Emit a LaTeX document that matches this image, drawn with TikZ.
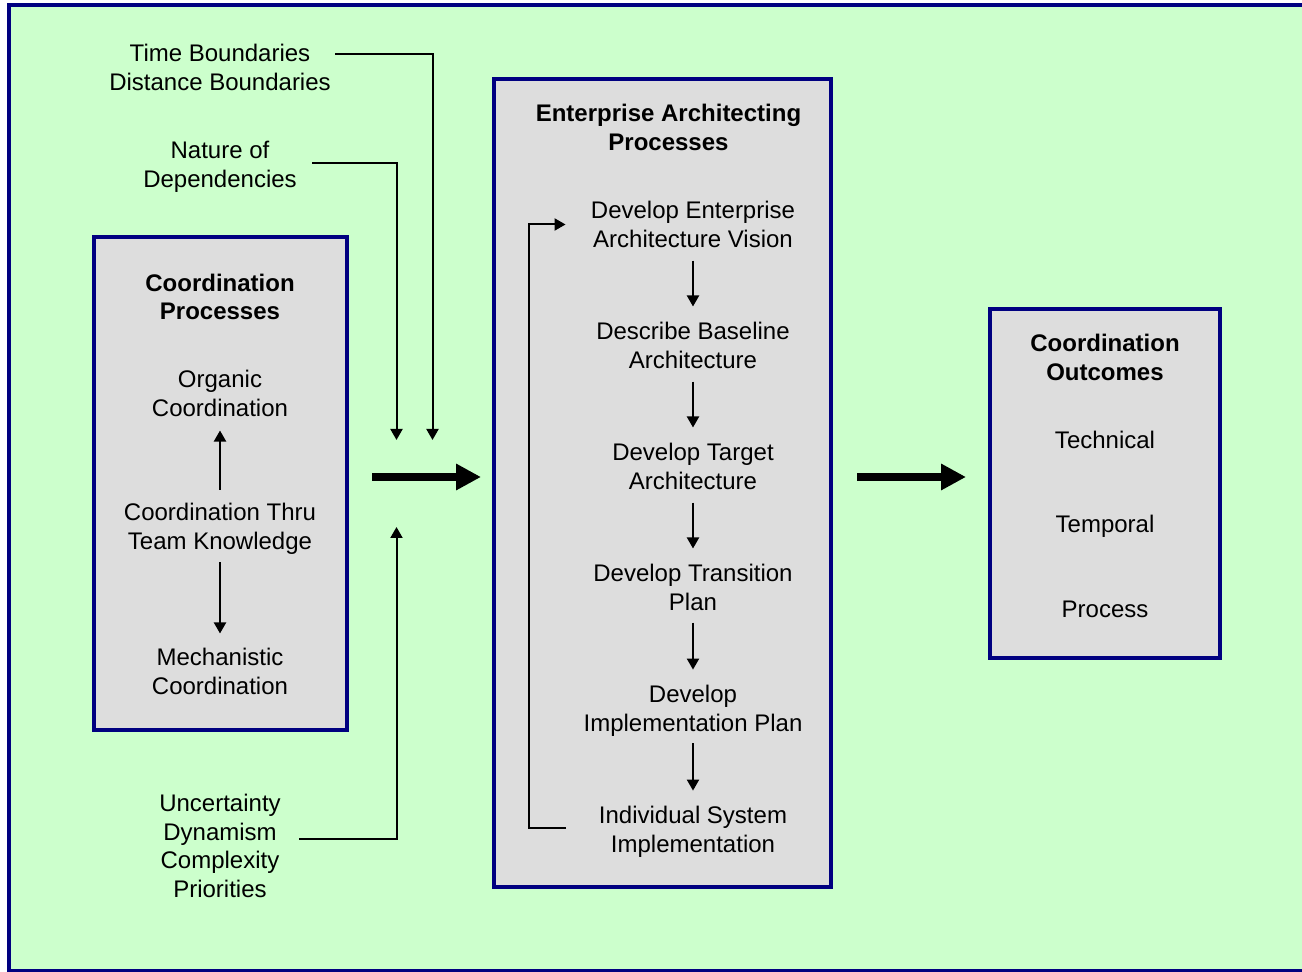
\documentclass[tikz,border=0pt]{standalone}
\usepackage{fontspec}
\setmainfont{Liberation Sans}
\usetikzlibrary{arrows.meta}
\definecolor{bggreen}{HTML}{CCFFCC}
\definecolor{boxgray}{HTML}{DDDDDD}
\definecolor{boxblue}{HTML}{000080}

\begin{document}
\begin{tikzpicture}[x=0.5pt,y=-0.5pt,
 every node/.style={font=\fontsize{12pt}{14.4pt}\selectfont,align=center,inner sep=0pt},
 title/.style={font=\fontsize{12pt}{14.4pt}\selectfont\bfseries},
 procbox/.style={draw=boxblue,line width=2pt,fill=boxgray},
 link/.style={-{Triangle[length=5.5pt,width=6pt]},line width=1pt},
 stepline/.style={link,shorten <=6.2pt,shorten >=7.7pt},
 flow/.style={-{Triangle[length=12.5pt,width=12.5pt]},line width=4pt}]
 \clip (0,0) rectangle (1302,972);
 \fill[white] (0,0) rectangle (1302,972);
 \draw[draw=boxblue,line width=2pt,fill=bggreen] (9,5) rectangle (1330,971);
 % the three boxes
 \node (cp box) at (220.5,483.5) [procbox,minimum width=126.5pt,minimum height=246.5pt] {};
 \node (ea box) at (662.5,483) [procbox,minimum width=168.5pt,minimum height=404pt] {};
 \node (co box) at (1105,484) [procbox,minimum width=115pt,minimum height=174.5pt] {};
 % coordination processes
 \node (cp title) at (220,297) [title] {Coordination\\Processes};
 \node (org) at (220,393.5) {Organic\\Coordination};
 \node (ctk) at (220,529) {Coordination Thru\\Team Knowledge};
 \node (mech) at (220,671.5) {Mechanistic\\Coordination};
 \draw[link,shorten <=6.7pt,shorten >=6.7pt] (ctk) -- (org);
 \draw[link,shorten <=3.7pt,shorten >=7.2pt] (ctk) -- (mech);
 % enterprise architecting processes
 \node (ea title) at (668.5,127.5) [title] {Enterprise Architecting\\Processes};
 \node (edv) at (693,224.5) {Develop Enterprise\\Architecture Vision};
 \node (dba) at (693,345.5) {Describe Baseline\\Architecture};
 \node (dta) at (693,466.5) {Develop Target\\Architecture};
 \node (dtp) at (693,587.5) {Develop Transition\\Plan};
 \node (dip) at (693,711) {Develop\\Implementation Plan};
 \node (isi) at (693,832) {Individual System\\Implementation};
 \draw[stepline] (edv) -- (dba);
 \draw[stepline] (dba) -- (dta);
 \draw[stepline] (dta) -- (dtp);
 \draw[stepline,shorten <=5.7pt] (dtp) -- (dip);
 \draw[stepline,shorten <=3.2pt] (dip) -- (isi);
 \coordinate (loop) at (529,0);
 \draw[link,shorten <=16.2pt,shorten >=12.5pt] ([yshift=2pt]isi.west) -- ([yshift=2pt]isi.west -| loop) -- (edv.west -| loop) -- (edv.west);
 % coordination outcomes
 \node (co title) at (1105,357.5) [title] {Coordination\\Outcomes};
 \node (tech) at (1105,440) {Technical};
 \node (temp) at (1105,526.5) {Temporal};
 \node (proc) at (1105,609) {Process};
 % main flow
 \coordinate (mid) at (0,477);
 \draw[flow,shorten <=11.5pt,shorten >=5.5pt] (cp box.east |- mid) -- (ea box.west |- mid);
 \draw[flow,shorten <=12pt,shorten >=11pt] (ea box.east |- mid) -- (co box.west |- mid);
 % inputs
 \node (td) at (220,67.5) {Time Boundaries\\Distance Boundaries};
 \node (nd) at (220,167) {Nature of\\Dependencies};
 \node (ud) at (220,846) {Uncertainty\\Dynamism\\Complexity\\Priorities};
 \coordinate (in time) at (432.5,440);
 \coordinate (in dep) at (396.5,440);
 \coordinate (in unc) at (396.5,527);
 \draw[link] ([shift={(2pt,6.75pt)}]td.east) -| (in time);
 \draw[link] ([shift={(7.5pt,2pt)}]nd.east) -| (in dep);
 \draw[link] ([shift={(9pt,3.35pt)}]ud.east) -| (in unc);
\end{tikzpicture}
\end{document}
